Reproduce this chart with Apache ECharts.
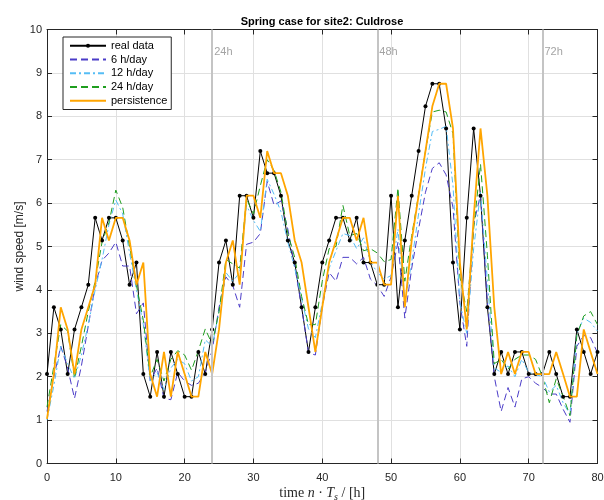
<!DOCTYPE html>
<html><head><meta charset="utf-8">
<script src="https://cdn.jsdelivr.net/npm/echarts@6/dist/echarts.min.js"></script>
<style>html,body{margin:0;padding:0;background:#fff}#c{width:604px;height:500px}</style>
</head><body><div id="c"></div>
<script>
// hours 0..80
const hours = Array.from({length: 81}, (_, i) => i);
const realData = [2.06,3.6,3.09,2.06,3.09,3.6,4.12,5.66,5.14,5.66,
 5.66,5.14,4.12,4.63,2.06,1.54,2.57,1.54,2.57,2.06,
 1.54,1.54,2.57,2.06,3.09,4.63,5.14,4.12,6.17,6.17,
 5.66,7.2,6.69,6.69,6.17,5.14,4.63,3.6,2.57,3.6,
 4.63,5.14,5.66,5.66,5.14,5.66,4.63,4.63,4.12,4.12,
 6.17,3.6,5.14,6.17,7.2,8.23,8.75,8.75,7.72,4.63,
 3.09,5.66,7.72,6.17,3.6,2.06,2.57,2.06,2.57,2.57,
 2.06,2.06,2.06,2.57,2.06,1.54,1.54,3.09,2.57,2.06,
 2.57];
const h6 = [1.2,2.0,2.7,2.2,1.5,2.25,3.17,4.1,4.68,4.85,
 5.1,4.55,4.55,3.45,3.7,1.9,2.2,1.5,1.47,2.1,
 1.9,1.8,1.85,2.1,2.6,3.6,4.3,4.1,3.6,5.05,
 5.1,5.3,6.5,5.95,6.05,5.4,4.55,3.6,2.55,2.5,
 3.6,4.4,4.2,4.75,4.75,4.6,4.75,4.25,4.1,3.85,
 4.3,5.1,3.35,4.5,5.4,6.25,6.8,6.93,6.65,5.9,
 3.7,2.7,5.5,6.2,3.7,2.0,1.2,1.75,1.3,1.95,
 2.0,1.85,1.75,1.6,1.6,1.25,0.95,2.7,2.95,2.9,
 2.55];
const h12 = [1.0,1.8,2.7,2.3,1.95,2.5,3.2,4.0,4.7,5.5,
 6.07,5.75,4.85,4.0,3.2,1.9,2.1,1.7,2.2,2.4,
 2.3,1.9,2.0,2.85,2.7,3.5,4.4,4.2,4.4,5.95,
 5.6,5.35,6.55,6.2,5.8,5.1,4.5,3.8,3.1,2.9,
 3.7,4.5,4.9,5.3,5.25,4.95,5.2,4.65,4.4,4.25,
 4.33,5.4,3.7,4.65,5.75,6.8,7.65,7.7,7.77,6.4,
 3.7,3.0,4.95,6.25,4.2,2.2,2.1,2.25,2.0,2.4,
 2.1,2.05,2.0,1.65,1.8,1.4,1.13,3.0,3.35,3.25,
 3.05];
const h24 = [1.3,2.25,3.2,3.05,1.97,2.7,3.5,4.2,5.1,5.55,
 6.3,5.9,5.0,4.1,3.3,2.0,2.4,1.9,2.4,2.6,
 2.5,2.15,2.6,3.1,2.75,3.5,4.7,4.6,4.5,6.1,
 5.75,6.4,7.0,6.75,6.25,5.3,4.75,3.85,3.2,3.2,
 4.2,4.95,5.0,5.95,5.25,5.3,4.9,4.95,4.85,4.65,
 4.7,6.35,4.2,5.25,6.2,7.2,8.1,8.14,8.1,7.6,
 4.3,3.5,5.4,6.9,4.8,2.3,2.4,2.17,2.4,2.5,
 2.5,2.4,2.0,1.4,1.95,1.55,1.1,2.95,3.4,3.5,
 3.2];
const persistence = [1.03,2.06,3.6,3.09,2.06,3.09,3.6,4.12,5.66,5.14,
 5.66,5.66,5.14,4.12,4.63,2.06,1.54,2.57,1.54,2.57,
 2.06,1.54,1.54,2.57,2.06,3.09,4.63,5.14,4.12,6.17,
 6.17,5.66,7.2,6.69,6.69,6.17,5.14,4.63,3.6,2.57,
 3.6,4.63,5.14,5.66,5.66,5.14,5.66,4.63,4.63,4.12,
 4.12,6.17,3.6,5.14,6.17,7.2,8.23,8.75,8.75,7.72,
 4.63,3.09,5.66,7.72,6.17,3.6,2.06,2.57,2.06,2.57,
 2.57,2.06,2.06,2.06,2.57,2.06,1.54,1.54,3.09,2.57,
 2.06];
const markerHours = [24, 48, 72];
const markerLabels = ['24h', '48h', '72h'];
const markerLabelY = 9.48;
const xTicks = [0,10,20,30,40,50,60,70,80];
const yTicks = [0,1,2,3,4,5,6,7,8,9,10];

const pairs = arr => hours.map((h, i) => [h, arr[i]]);
const axisColor = '#262626';
const font = 'Liberation Sans, Arial, Helvetica, sans-serif';
const serif = 'Liberation Serif, DejaVu Serif, serif';

const chart = echarts.init(document.getElementById('c'), null, {renderer: 'canvas'});
chart.setOption({
  animation: false,
  backgroundColor: '#fff',
  title: {
    text: 'Spring case for site2: Culdrose',
    left: 322, textAlign: 'center', top: 16, padding: 0,
    textStyle: {fontFamily: font, fontSize: 11, fontWeight: 'bold', color: '#000'}
  },
  grid: {left: 47, right: 6.5, top: 29.5, bottom: 36.5, containLabel: false, outerBoundsMode: 'none'},
  legend: {
    data: [
      {name: 'real data'},
      {name: '6 h/day', itemStyle: {opacity: 0}},
      {name: '12 h/day', itemStyle: {opacity: 0}},
      {name: '24 h/day', itemStyle: {opacity: 0}},
      {name: 'persistence', itemStyle: {opacity: 0}}
    ],
    orient: 'vertical', left: 63, top: 37,
    padding: [2, 4, 2, 6],
    itemWidth: 36, itemHeight: 5, itemGap: 0,
    backgroundColor: '#fff', borderColor: axisColor, borderWidth: 1, borderRadius: 0,
    textStyle: {fontFamily: font, fontSize: 11, color: '#000', lineHeight: 13.7}
  },
  xAxis: [{
    type: 'value', min: 0, max: 80, interval: 10,
    name: '{r|time }{i|n}{r| · }{i|T}{sub|s}{r| / [h]}',
    nameLocation: 'middle', nameGap: 21, nameMoveOverlap: false,
    nameTextStyle: {
      fontFamily: serif, fontSize: 14, color: axisColor,
      rich: {
        r: {fontFamily: serif, fontSize: 14, color: axisColor},
        i: {fontFamily: serif, fontSize: 14, fontStyle: 'italic', color: axisColor},
        sub: {fontFamily: serif, fontSize: 10, fontStyle: 'italic', color: axisColor, padding: [8, 0, 0, 0]}
      }
    },
    axisLine: {show: true, onZero: false, lineStyle: {color: axisColor, width: 1}},
    axisTick: {show: true, inside: true, length: 5, lineStyle: {color: axisColor}},
    axisLabel: {show: true, margin: 9, color: axisColor, fontFamily: font, fontSize: 11,
      formatter: v => xTicks.includes(v) ? String(v) : ''},
    splitLine: {show: true, lineStyle: {color: '#e0e0e0', width: 1}}
  }, {
    type: 'value', min: 0, max: 80, interval: 10, position: 'top',
    axisLine: {show: true, onZero: false, lineStyle: {color: axisColor, width: 1}},
    axisTick: {show: true, inside: true, length: 5, lineStyle: {color: axisColor}},
    axisLabel: {show: false}, splitLine: {show: false}
  }],
  yAxis: [{
    type: 'value', min: 0, max: 10, interval: 1,
    name: 'wind speed [m/s]', nameLocation: 'middle', nameGap: 21, nameMoveOverlap: false,
    nameTextStyle: {fontFamily: font, fontSize: 12, color: axisColor},
    axisLine: {show: true, onZero: false, lineStyle: {color: axisColor, width: 1}},
    axisTick: {show: true, inside: true, length: 5, lineStyle: {color: axisColor}},
    axisLabel: {show: true, margin: 5, color: axisColor, fontFamily: font, fontSize: 11,
      formatter: v => yTicks.includes(v) ? String(v) : ''},
    splitLine: {show: true, lineStyle: {color: '#e0e0e0', width: 1}}
  }, {
    type: 'value', min: 0, max: 10, interval: 1, position: 'right',
    axisLine: {show: true, onZero: false, lineStyle: {color: axisColor, width: 1}},
    axisTick: {show: true, inside: true, length: 5, lineStyle: {color: axisColor}},
    axisLabel: {show: false}, splitLine: {show: false}
  }],
  series: [
    {
      name: 'markers', type: 'line', data: [], z: 1, silent: true,
      markLine: {
        silent: true, symbol: ['none', 'none'], animation: false,
        label: {show: false},
        lineStyle: {color: '#c4c4c4', width: 2, type: 'solid'},
        data: markerHours.map(h => ({xAxis: h}))
      }
    },
    {
      name: 'markerText', type: 'scatter', z: 1, silent: true, symbolSize: 0,
      data: markerHours.map((h, i) => ({value: [h, markerLabelY], label: {formatter: markerLabels[i]}})),
      label: {show: true, position: 'right', distance: 2, color: '#8c8c8c', fontFamily: font, fontSize: 11}
    },
    {
      name: 'real data', type: 'line', data: pairs(realData), z: 3,
      symbol: 'circle', symbolSize: 4, showSymbol: true,
      itemStyle: {color: '#000'},
      lineStyle: {color: '#000', width: 1}
    },
    {
      name: '6 h/day', type: 'line', data: pairs(h6), z: 3,
      symbol: 'none', itemStyle: {color: '#4b3cc8'},
      lineStyle: {color: '#4b3cc8', width: 1, type: [7, 4]}
    },
    {
      name: '12 h/day', type: 'line', data: pairs(h12), z: 3,
      symbol: 'none', itemStyle: {color: '#55bdf5'},
      lineStyle: {color: '#55bdf5', width: 1, type: [6, 3, 2, 3]}
    },
    {
      name: '24 h/day', type: 'line', data: pairs(h24), z: 3,
      symbol: 'none', itemStyle: {color: '#1f9e1f'},
      lineStyle: {color: '#1f9e1f', width: 1, type: [7, 4]}
    },
    {
      name: 'persistence', type: 'line', data: pairs(persistence), z: 4,
      symbol: 'none', itemStyle: {color: '#ffa500'},
      lineStyle: {color: '#ffa500', width: 1.8}
    }
  ]
});
</script>
</body></html>
